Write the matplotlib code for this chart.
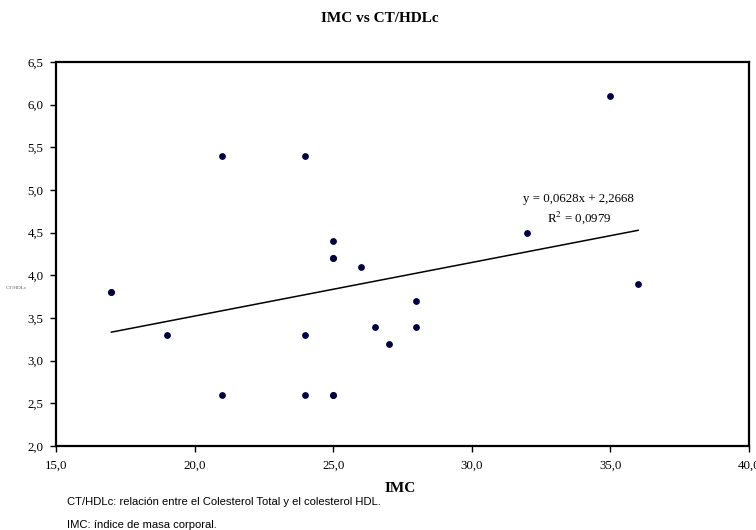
import numpy as np
import matplotlib.pyplot as plt

# IMC (x) vs CT/HDLc (y)
imc = [17, 17, 19, 21, 21, 24, 24, 24, 25, 25, 25, 25, 25, 26, 26.5, 27, 28, 28, 32, 35, 36]
ct_hdl = [3.8, 3.8, 3.3, 5.4, 2.6, 5.4, 3.3, 2.6, 4.4, 4.2, 4.2, 2.6, 2.6, 4.1, 3.4, 3.2, 3.7, 3.4, 4.5, 6.1, 3.9]

# linear trend as printed on the chart
slope = 0.0628
intercept = 2.2668
r2 = 0.0979

xticks = [15, 20, 25, 30, 35, 40]
yticks = [2.0, 2.5, 3.0, 3.5, 4.0, 4.5, 5.0, 5.5, 6.0, 6.5]

serif = 'Liberation Serif'
sans = 'Liberation Sans'

fig = plt.figure(figsize=(7.56, 5.30), dpi=100)
ax = fig.add_axes([56 / 756, 84 / 530, 693 / 756, 384 / 530])

ax.scatter(imc, ct_hdl, s=15, color='#000040', zorder=3)

xl = np.array([min(imc), max(imc)])
ax.plot(xl, slope * xl + intercept, color='black', lw=1.1, zorder=2)

ax.text(33.83, 4.894, 'y = 0,0628x + 2,2668', family=serif, fontsize=9.3, ha='center', va='center')
ax.text(33.86, 4.671, r'R$^{2}$ = 0,0979', family=serif, fontsize=9.3, ha='center', va='center',
        math_fontfamily='stix')

ax.set_xlim(15, 40)
ax.set_ylim(2.0, 6.5)
ax.set_xticks(xticks)
ax.set_yticks(yticks)
ax.set_xticklabels([f'{v:.1f}'.replace('.', ',') for v in xticks], family=serif, fontsize=9.3)
ax.set_yticklabels([f'{v:.1f}'.replace('.', ',') for v in yticks], family=serif, fontsize=9.3)
ax.tick_params(direction='out', length=4, width=1)
ax.tick_params(axis='y', pad=5)
ax.tick_params(axis='x', pad=6)

for sp in ax.spines.values():
    sp.set_linewidth(1.6)
    sp.set_color('black')

# title and axis labels
fig.text(380 / 756, 1 - 19 / 530, 'IMC vs CT/HDLc', family=serif, fontsize=11, weight='bold',
         ha='center', va='center')
fig.text(400 / 756, 1 - 488 / 530, 'IMC', family=serif, fontsize=11, weight='bold',
         ha='center', va='center')
fig.text(16.5 / 756, 1 - 288 / 530, 'CT/HDLc', family=serif, fontsize=3.8, color='#555555',
         ha='center', va='center')

# notes below the chart
fig.text(67 / 756, 1 - 502 / 530, 'CT/HDLc: relación entre el Colesterol Total y el colesterol HDL.',
         family=sans, fontsize=8.1, ha='left', va='center', stretch='condensed')
fig.text(67 / 756, 1 - 525 / 530, 'IMC: índice de masa corporal.',
         family=sans, fontsize=8.1, ha='left', va='center')

fig.savefig('out.png', dpi=100)
